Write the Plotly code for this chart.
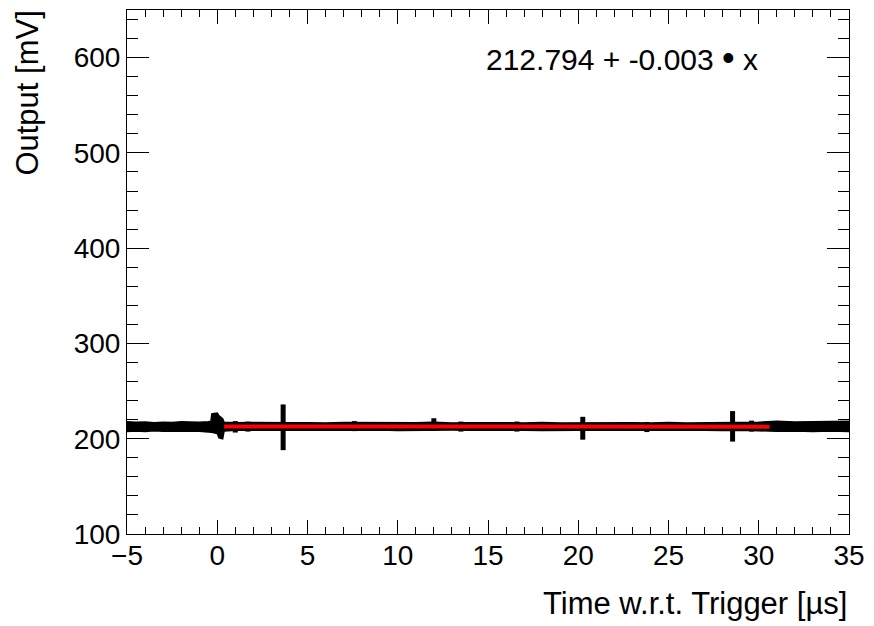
import plotly.graph_objects as go

# ---- data ----
band_time = [-5.0, -4.5, -4.0, -3.5, -3.0, -2.5, -2.0, -1.5, -1.0, -0.5, -0.35, -0.3, 0.0, 0.1, 0.3, 0.38,
             1.0, 2.0, 3.0, 4.0, 5.0, 6.0, 7.0, 8.0, 9.0, 10.0, 11.0, 12.0, 13.0, 14.0, 15.0,
             16.0, 17.0, 18.0, 19.0, 20.0, 21.0, 22.0, 23.0, 24.0, 25.0, 26.0, 27.0, 28.0, 29.0,
             30.0, 30.5, 31.0, 32.0, 33.0, 34.0, 35.0]
band_upper = [217.8, 217.2, 217.6, 216.9, 217.4, 217.0, 217.7, 217.2, 217.4, 217.9, 218.3, 226.0, 227.0, 224.0, 221.0, 217.3,
              216.8, 217.1, 216.6, 216.9, 216.8, 216.5, 217.1, 216.8, 216.6, 216.9, 216.7, 217.2, 216.6, 216.9, 216.5,
              216.8, 216.6, 217.0, 216.4, 216.7, 216.9, 216.5, 216.8, 216.6, 217.0, 216.5, 216.7, 216.9, 216.7,
              217.3, 217.8, 218.3, 217.6, 218.0, 217.7, 218.3]
band_lower = [207.6, 208.1, 207.7, 208.3, 207.9, 208.1, 207.6, 208.2, 207.8, 207.6, 207.2, 206.8, 205.5, 201.0, 200.0, 208.2,
              208.9, 208.7, 209.1, 208.8, 209.0, 209.2, 208.8, 209.0, 209.1, 208.7, 209.0, 208.8, 209.1, 208.9, 209.1,
              208.8, 209.0, 208.7, 209.1, 208.9, 208.8, 209.1, 208.7, 209.0, 208.8, 209.1, 208.9, 208.7, 209.0,
              208.4, 208.0, 207.8, 208.2, 207.7, 208.0, 207.6]

spike_time = [1.0, 1.7, 3.65, 7.6, 12.0, 13.5, 16.6, 20.25, 23.8, 28.55, 29.6]
spike_low = [206.5, 207.5, 188.0, 208.0, 208.5, 207.5, 207.5, 199.0, 207.0, 197.0, 207.5]
spike_high = [218.5, 218.0, 236.0, 218.5, 221.5, 218.0, 218.0, 223.0, 217.5, 229.0, 219.0]

fit_intercept = 212.794
fit_slope = -0.003
fit_range = [0.38, 30.6]

x_range = [-5, 35]
y_range = [100, 650]
x_tickvals = [-5, 0, 5, 10, 15, 20, 25, 30, 35]
y_tickvals = [100, 200, 300, 400, 500, 600]

FONT = "Liberation Sans, Arial, sans-serif"

fig = go.Figure()

# noisy signal band
fig.add_trace(go.Scatter(x=band_time, y=band_upper, mode="lines",
                         line=dict(color="black", width=1.5), showlegend=False, hoverinfo="skip"))
fig.add_trace(go.Scatter(x=band_time, y=band_lower, mode="lines", fill="tonexty",
                         fillcolor="black", line=dict(color="black", width=1.5),
                         showlegend=False, hoverinfo="skip"))

# spikes
sx, sy = [], []
for t, lo, hi in zip(spike_time, spike_low, spike_high):
    sx += [t, t, None]
    sy += [lo, hi, None]
fig.add_trace(go.Scatter(x=sx, y=sy, mode="lines", line=dict(color="black", width=5),
                         showlegend=False, hoverinfo="skip"))

# fit line
fit_y = [fit_intercept + fit_slope * t for t in fit_range]
fig.add_trace(go.Scatter(x=fit_range, y=fit_y, mode="lines", line=dict(color="#ff0000", width=4),
                         showlegend=False, hoverinfo="skip"))

L, R, T, B = 127, 17, 9, 92
W, H = 874, 626
pw, ph = W - L - R, H - T - B

fig.update_layout(
    width=W, height=H,
    margin=dict(l=L, r=R, t=T, b=B),
    paper_bgcolor="white", plot_bgcolor="white",
    font=dict(family=FONT, size=28, color="black"),
    xaxis=dict(range=x_range, tickvals=x_tickvals, ticks="inside", ticklen=14, tickwidth=1,
               tickcolor="black", showline=True, linecolor="black", linewidth=1, mirror="allticks",
               showgrid=False, zeroline=False, tickfont=dict(size=28), ticklabelstandoff=-4,
               minor=dict(dtick=1, ticks="inside", ticklen=7, tickcolor="black", showgrid=False)),
    yaxis=dict(range=y_range, tickvals=y_tickvals, ticks="inside", ticklen=22, tickwidth=1,
               tickcolor="black", showline=True, linecolor="black", linewidth=1, mirror="allticks",
               showgrid=False, zeroline=False, tickfont=dict(size=28), ticklabelstandoff=0,
               minor=dict(dtick=20, ticks="inside", ticklen=11, tickcolor="black", showgrid=False)),
)

fig.add_annotation(text="212.794 + -0.003 <span style='font-size:36px'>\u2022</span> x",
                   xref="paper", yref="paper",
                   x=(767 - L) / pw, y=(H - B - 57) / ph, xanchor="right", yanchor="middle",
                   showarrow=False, font=dict(size=30, family=FONT))
fig.add_annotation(text="Time w.r.t. Trigger [\u00b5s]", xref="paper", yref="paper",
                   x=1.0, y=(H - B - 604) / ph, xanchor="right", yanchor="middle",
                   showarrow=False, font=dict(size=31, family=FONT))
fig.add_annotation(text="Output [mV]", xref="paper", yref="paper", textangle=-90,
                   x=(26 - L) / pw, y=1.0 - (8 - T) / ph, xanchor="center", yanchor="top",
                   showarrow=False, font=dict(size=31, family=FONT))

fig.write_html("out.html", config={"displayModeBar": False},
               post_script="document.body.style.margin='0';")
